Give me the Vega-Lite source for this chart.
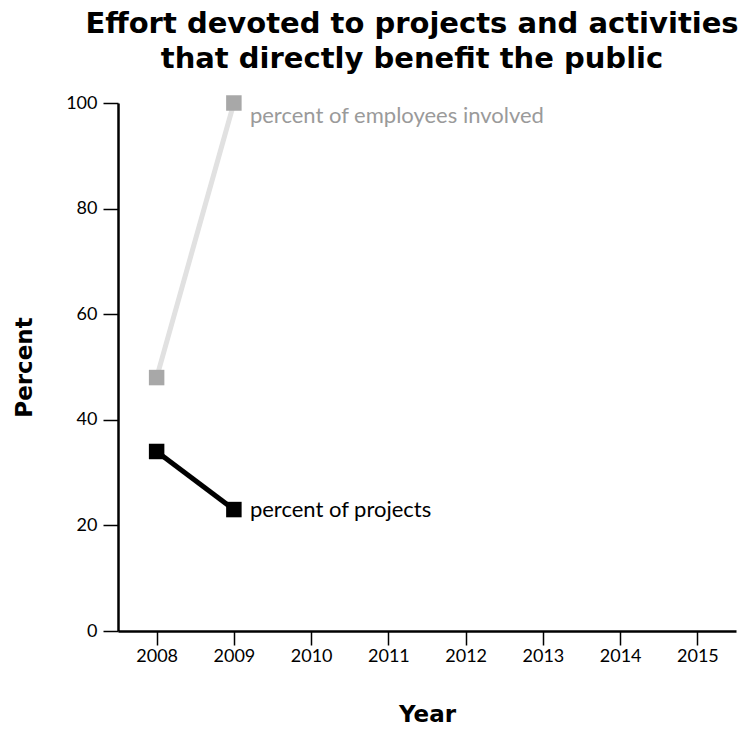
{
  "$schema": "https://vega.github.io/schema/vega-lite/v6.json",
  "width": 618,
  "height": 528,
  "autosize": "none",
  "padding": {"left": 118, "top": 103, "right": 20, "bottom": 100},
  "background": "white",
  "title": {
    "text": ["Effort devoted to projects and activities", "that directly benefit the public"],
    "font": "DejaVu Sans",
    "fontSize": 29,
    "fontWeight": "bold",
    "color": "black",
    "anchor": "middle",
    "dx": -15,
    "offset": 19,
    "lineHeight": 35
  },
  "config": {
    "view": {"stroke": null},
    "axis": {
      "labelFont": "Lato",
      "labelFontSize": 18,
      "labelColor": "black",
      "titleFont": "DejaVu Sans",
      "titleFontSize": 23,
      "titleFontWeight": "bold",
      "titleColor": "black",
      "domainColor": "black",
      "domainWidth": 2.5,
      "tickColor": "black",
      "tickWidth": 1.5,
      "grid": false
    }
  },
  "data": {
    "values": [
      {"series": "employees", "year": 2008, "value": 48},
      {"series": "employees", "year": 2009, "value": 100},
      {"series": "projects", "year": 2008, "value": 34},
      {"series": "projects", "year": 2009, "value": 23}
    ]
  },
  "encoding": {
    "x": {
      "field": "year",
      "type": "quantitative",
      "scale": {"domain": [2007.5, 2015.5], "nice": false, "zero": false},
      "axis": {"values": [2008, 2009, 2010, 2011, 2012, 2013, 2014, 2015], "format": "d", "title": "Year", "tickSize": 14, "labelPadding": 2, "titlePadding": 38}
    },
    "y": {
      "field": "value",
      "type": "quantitative",
      "scale": {"domain": [0, 100], "nice": false},
      "axis": {"values": [0, 20, 40, 60, 80, 100], "title": "Percent", "tickSize": 15, "labelPadding": 6, "titlePadding": 29}
    }
  },
  "layer": [
    {
      "transform": [{"filter": "datum.series === 'employees'"}],
      "mark": {"type": "line", "color": "#e1e1e1", "strokeWidth": 5}
    },
    {
      "transform": [{"filter": "datum.series === 'projects'"}],
      "mark": {"type": "line", "color": "black", "strokeWidth": 5}
    },
    {
      "transform": [{"filter": "datum.series === 'employees'"}],
      "mark": {"type": "square", "color": "#a8a8a8", "size": 240, "opacity": 1, "filled": true}
    },
    {
      "transform": [{"filter": "datum.series === 'projects'"}],
      "mark": {"type": "square", "color": "black", "size": 240, "opacity": 1, "filled": true}
    },
    {
      "transform": [{"filter": "datum.series === 'employees' && datum.year === 2009"}],
      "mark": {"type": "text", "text": "percent of employees involved", "align": "left", "baseline": "middle", "dx": 16, "dy": 13, "font": "Lato", "fontSize": 22, "color": "#9a9a9a"}
    },
    {
      "transform": [{"filter": "datum.series === 'projects' && datum.year === 2009"}],
      "mark": {"type": "text", "text": "percent of projects", "align": "left", "baseline": "middle", "dx": 16, "dy": 0, "font": "Lato", "fontSize": 22, "color": "black"}
    }
  ]
}
